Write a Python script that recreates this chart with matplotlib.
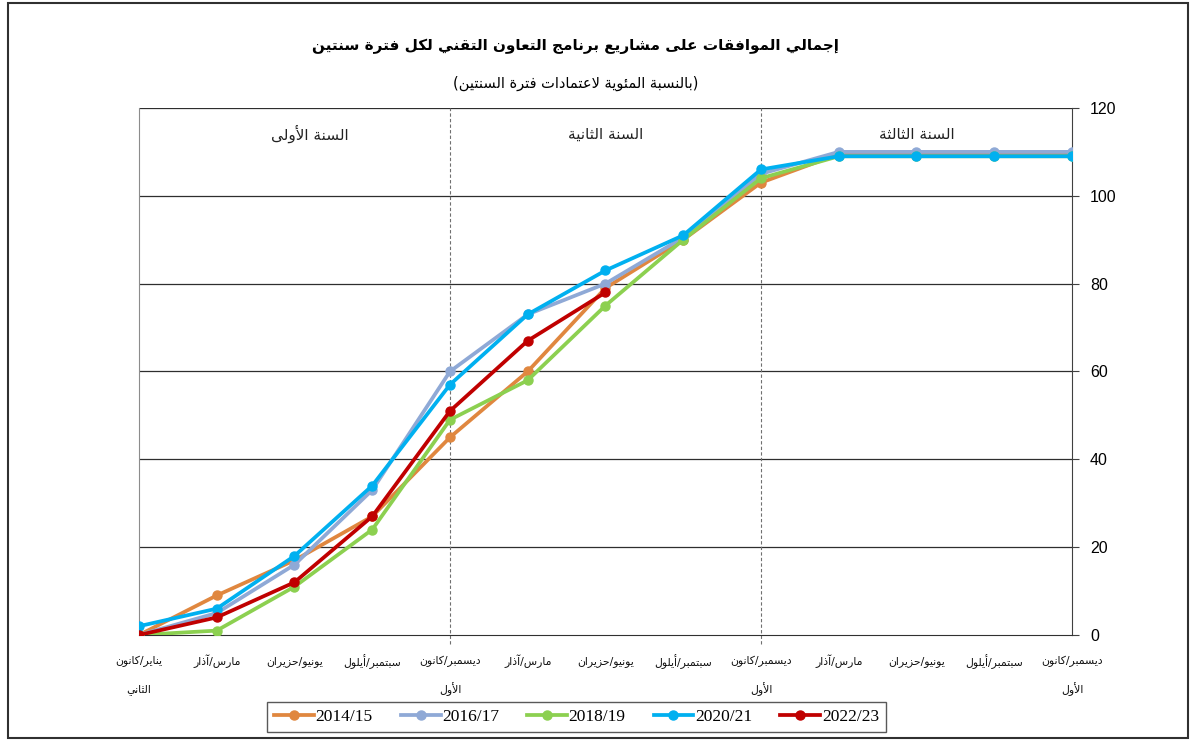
import matplotlib
matplotlib.use('Agg')
import matplotlib.pyplot as plt
from matplotlib.patches import Rectangle

# ---- data ----
series_names = ['2014/15', '2016/17', '2018/19', '2020/21', '2022/23']
colors = ['#E0873F', '#8FA9D6', '#8CD050', '#00B0F0', '#C00000']

s2014 = [0, 9, 17, 27, 45, 60, 79, 90, 103, 109.5, 109.5, 109.5, 109.5]
s2016 = [0, 5, 16, 33, 60, 73, 80, 90.5, 105, 110, 110, 110, 110]
s2018 = [0, 1, 11, 24, 49, 58, 75, 90, 104, 109, 109, 109, 109]
s2020 = [2, 6, 18, 34, 57, 73, 83, 91, 106, 109, 109, 109, 109]
s2022 = [0, 4, 12, 27, 51, 67, 78]
values = [s2014, s2016, s2018, s2020, s2022]

month_labels = [
    ['يناير/كانون', 'الثاني'],
    ['مارس/آذار'],
    ['يونيو/حزيران'],
    ['سبتمبر/أيلول'],
    ['ديسمبر/كانون', 'الأول'],
    ['مارس/آذار'],
    ['يونيو/حزيران'],
    ['سبتمبر/أيلول'],
    ['ديسمبر/كانون', 'الأول'],
    ['مارس/آذار'],
    ['يونيو/حزيران'],
    ['سبتمبر/أيلول'],
    ['ديسمبر/كانون', 'الأول'],
]
period_labels = ['السنة الأولى', 'السنة الثانية', 'السنة الثالثة']
period_pos = [2.2, 6, 10]
title = 'إجمالي الموافقات على مشاريع برنامج التعاون التقني لكل فترة سنتين'
subtitle = '(بالنسبة المئوية لاعتمادات فترة السنتين)'

# ---- minimal arabic shaping (matplotlib has no RTL / joining support) ----
letters = [('ء', 0xFE80, 1), ('آ', 0xFE81, 2), ('أ', 0xFE83, 2), ('ؤ', 0xFE85, 2),
           ('إ', 0xFE87, 2), ('ئ', 0xFE89, 4), ('ا', 0xFE8D, 2), ('ب', 0xFE8F, 4),
           ('ة', 0xFE93, 2), ('ت', 0xFE95, 4), ('ث', 0xFE99, 4), ('ج', 0xFE9D, 4),
           ('ح', 0xFEA1, 4), ('خ', 0xFEA5, 4), ('د', 0xFEA9, 2), ('ذ', 0xFEAB, 2),
           ('ر', 0xFEAD, 2), ('ز', 0xFEAF, 2), ('س', 0xFEB1, 4), ('ش', 0xFEB5, 4),
           ('ص', 0xFEB9, 4), ('ض', 0xFEBD, 4), ('ط', 0xFEC1, 4), ('ظ', 0xFEC5, 4),
           ('ع', 0xFEC9, 4), ('غ', 0xFECD, 4), ('ف', 0xFED1, 4), ('ق', 0xFED5, 4),
           ('ك', 0xFED9, 4), ('ل', 0xFEDD, 4), ('م', 0xFEE1, 4), ('ن', 0xFEE5, 4),
           ('ه', 0xFEE9, 4), ('و', 0xFEED, 2), ('ى', 0xFEEF, 2), ('ي', 0xFEF1, 4)]
FORMS = {c: (code, n) for c, code, n in letters}
LAMALEF = {'آ': 0xFEF5, 'أ': 0xFEF7, 'إ': 0xFEF9, 'ا': 0xFEFB}


def shape(text):
    toks = []
    i = 0
    while i < len(text):
        c = text[i]
        if c == 'ل' and i + 1 < len(text) and text[i + 1] in LAMALEF:
            toks.append(('LA', text[i + 1]))
            i += 2
        else:
            toks.append(('C', c))
            i += 1

    def nf(t):
        if t[0] == 'LA':
            return 2
        return FORMS[t[1]][1] if t[1] in FORMS else 0

    out = []
    for k, t in enumerate(toks):
        n = nf(t)
        if n == 0:
            out.append(t[1])
            continue
        base = LAMALEF[t[1]] if t[0] == 'LA' else FORMS[t[1]][0]
        prev = k > 0 and nf(toks[k - 1]) == 4
        nxt = n == 4 and k + 1 < len(toks) and nf(toks[k + 1]) >= 2
        if n == 1:
            off = 0
        elif prev and nxt:
            off = 3
        elif nxt:
            off = 2
        elif prev:
            off = 1
        else:
            off = 0
        out.append(chr(base + off))
    s = ''.join(out)[::-1]
    return s.translate(str.maketrans('()', ')('))


def ar(text):
    return '\n'.join(shape(line) for line in text.split('\n'))


# ---- figure ----
fig = plt.figure(figsize=(11.96, 7.4), dpi=100)
ax = fig.add_axes([0.1162, 0.1419, 0.7801, 0.7122])
x = list(range(len(month_labels)))

for name, vals, col in zip(series_names, values, colors):
    ax.plot(x[:len(vals)], vals, color=col, linewidth=2.7, marker='o',
            markersize=6.5, label=name, zorder=3)

ax.set_xlim(0, 12)
ax.set_ylim(0, 120)
ax.set_yticks(range(0, 121, 20))
ax.yaxis.tick_right()
ax.tick_params(axis='y', direction='out', length=5, labelsize=11.5, pad=8, color='#404040')
for lab in ax.get_yticklabels():
    lab.set_family('Liberation Sans')
ax.set_xticks([])
for y in range(20, 121, 20):
    ax.axhline(y, color='#2e2e2e', linewidth=0.9, zorder=1)
ax.spines['top'].set_visible(False)
ax.spines['left'].set_color('#8c8c8c')
ax.spines['right'].set_color('#404040')
ax.spines['bottom'].set_color('#303030')

# period separators
for xv in [4, 8]:
    ax.plot([xv, xv], [-2, 120], color='#707070', linewidth=0.8, linestyle=(0, (3, 2)),
            clip_on=False, zorder=1)

for txt, px in zip(period_labels, period_pos):
    ax.text(px, 114, ar(txt), ha='center', va='center', fontsize=11,
            family='DejaVu Sans', color='#222222')

for xi, lines in zip(x, month_labels):
    for j, line in enumerate(lines):
        ax.text(xi, -6 - j * 6.3, shape(line), ha='center', va='center', fontsize=7.8,
                family='DejaVu Sans', color='#111111', clip_on=False)

fig.text(0.481, 0.937, ar(title), ha='center', va='center', fontsize=11,
         fontweight='bold', family='DejaVu Sans')
fig.text(0.481, 0.888, ar(subtitle), ha='center', va='center', fontsize=10.5,
         family='DejaVu Sans')

leg = fig.legend(loc='center', bbox_to_anchor=(0.482, 0.031), ncol=5, frameon=True,
                 fancybox=False, edgecolor='#303030', handlelength=2.3,
                 handletextpad=0.1, columnspacing=1.6, borderpad=0.4,
                 prop={'family': 'Liberation Serif', 'size': 12.5})
leg.get_frame().set_linewidth(1.0)

fig.patches.append(Rectangle((8 / 1196, 2 / 740), 1180 / 1196, 735 / 740,
                             transform=fig.transFigure, fill=False,
                             edgecolor='#303030', linewidth=1.5))

fig.savefig('out.png', dpi=100)
